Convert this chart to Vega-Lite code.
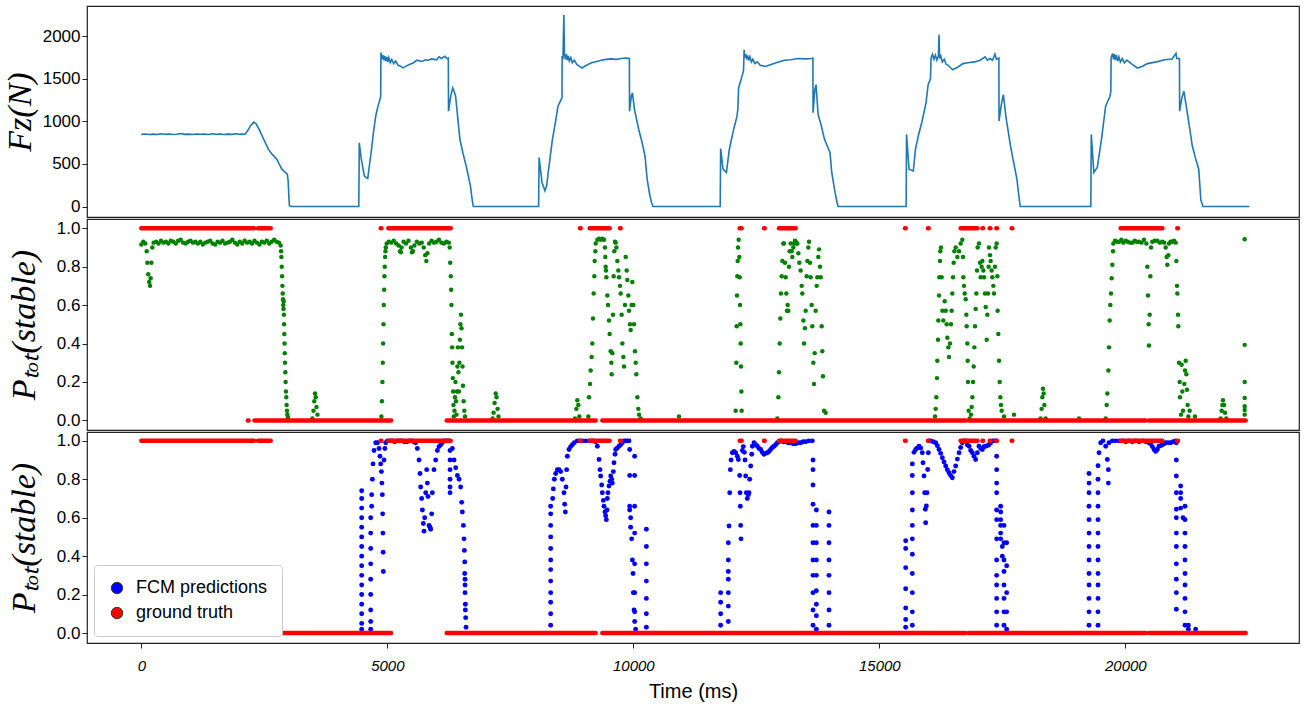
{
  "$schema": "https://vega.github.io/schema/vega-lite/v6.json",
  "background": "white",
  "padding": {"left": 2, "top": 5, "right": 4, "bottom": 2},
  "spacing": 0,
  "resolve": {"scale": {"color": "independent"}, "legend": {"color": "independent"}},
  "config": {
    "view": {"stroke": "#222222", "strokeWidth": 1.2},
    "axis": {
      "labelFont": "Liberation Sans",
      "labelFontSize": 17,
      "labelColor": "black",
      "labelPadding": 2,
      "tickColor": "#222222",
      "tickSize": 5,
      "domain": false,
      "grid": false,
      "titleColor": "black"
    }
  },
  "datasets": {
    "fz": [
      {"t":0,"f":848},{"t":80,"f":853},{"t":160,"f":846},{"t":240,"f":851},{"t":320,"f":847},{"t":400,"f":856},{"t":480,"f":849},{"t":560,"f":852},{"t":640,"f":846},{"t":720,"f":850},{"t":800,"f":858},{"t":880,"f":848},{"t":960,"f":851},{"t":1040,"f":846},{"t":1120,"f":853},{"t":1200,"f":849},{"t":1280,"f":851},{"t":1360,"f":846},{"t":1440,"f":855},{"t":1520,"f":849},{"t":1600,"f":853},{"t":1680,"f":847},{"t":1760,"f":851},{"t":1840,"f":848},{"t":1920,"f":856},{"t":2000,"f":849},{"t":2060,"f":852},{"t":2110,"f":850},{"t":2160,"f":890},{"t":2220,"f":950},{"t":2283,"f":992},{"t":2330,"f":975},{"t":2400,"f":900},{"t":2480,"f":800},{"t":2583,"f":672},{"t":2650,"f":620},{"t":2700,"f":590},{"t":2754,"f":555},{"t":2800,"f":500},{"t":2856,"f":439},{"t":2920,"f":405},{"t":2967,"f":380},{"t":2985,"f":300},{"t":3000,"f":100},{"t":3010,"f":10},{"t":3053,"f":0},
      {"t":3500,"f":0},{"t":4000,"f":0},{"t":4420,"f":0},
      {"t":4430,"f":750},{"t":4470,"f":560},{"t":4533,"f":360},{"t":4570,"f":340},{"t":4602,"f":330},{"t":4640,"f":500},{"t":4679,"f":672},{"t":4720,"f":880},{"t":4764,"f":1062},{"t":4810,"f":1180},{"t":4850,"f":1257},{"t":4865,"f":1290},{"t":4870,"f":1810},{"t":4890,"f":1730},{"t":4910,"f":1780},{"t":4930,"f":1720},{"t":4950,"f":1770},{"t":4970,"f":1710},{"t":4990,"f":1760},{"t":5010,"f":1700},{"t":5030,"f":1750},{"t":5060,"f":1690},{"t":5090,"f":1730},{"t":5130,"f":1680},{"t":5170,"f":1710},{"t":5220,"f":1660},{"t":5270,"f":1650},{"t":5319,"f":1630},{"t":5380,"f":1650},{"t":5450,"f":1670},{"t":5534,"f":1690},{"t":5600,"f":1720},{"t":5700,"f":1705},{"t":5780,"f":1725},{"t":5833,"f":1720},{"t":5900,"f":1735},{"t":6000,"f":1725},{"t":6050,"f":1760},{"t":6100,"f":1740},{"t":6170,"f":1765},{"t":6217,"f":1740},{"t":6240,"f":1745},{"t":6244,"f":1121},{"t":6290,"f":1300},{"t":6329,"f":1394},{"t":6360,"f":1350},{"t":6388,"f":1296},{"t":6430,"f":1050},{"t":6475,"f":790},{"t":6540,"f":620},{"t":6603,"f":477},{"t":6650,"f":350},{"t":6689,"f":243},{"t":6720,"f":100},{"t":6748,"f":0},
      {"t":7400,"f":0},{"t":8075,"f":0},
      {"t":8085,"f":575},{"t":8144,"f":283},{"t":8203,"f":185},{"t":8240,"f":250},{"t":8270,"f":400},{"t":8356,"f":790},{"t":8420,"f":1000},{"t":8468,"f":1179},{"t":8529,"f":1250},{"t":8550,"f":1280},{"t":8553,"f":1770},{"t":8570,"f":1730},{"t":8588,"f":2251},{"t":8600,"f":1790},{"t":8620,"f":1730},{"t":8640,"f":1790},{"t":8660,"f":1720},{"t":8680,"f":1770},{"t":8700,"f":1710},{"t":8730,"f":1750},{"t":8760,"f":1690},{"t":8800,"f":1720},{"t":8850,"f":1670},{"t":8900,"f":1650},{"t":8955,"f":1628},{"t":9050,"f":1660},{"t":9150,"f":1690},{"t":9254,"f":1705},{"t":9350,"f":1720},{"t":9450,"f":1730},{"t":9550,"f":1735},{"t":9650,"f":1730},{"t":9750,"f":1740},{"t":9850,"f":1745},{"t":9920,"f":1740},{"t":9923,"f":1121},{"t":9960,"f":1300},{"t":9982,"f":1336},{"t":10024,"f":1140},{"t":10110,"f":906},{"t":10180,"f":750},{"t":10238,"f":594},{"t":10281,"f":322},{"t":10330,"f":150},{"t":10368,"f":50},{"t":10400,"f":0},
      {"t":11100,"f":0},{"t":11766,"f":0},
      {"t":11775,"f":681},{"t":11823,"f":439},{"t":11892,"f":400},{"t":11951,"f":672},{"t":12039,"f":906},{"t":12108,"f":1062},{"t":12125,"f":1150},{"t":12140,"f":1394},{"t":12209,"f":1530},{"t":12240,"f":1600},{"t":12252,"f":1842},{"t":12265,"f":1750},{"t":12285,"f":1790},{"t":12305,"f":1730},{"t":12325,"f":1775},{"t":12345,"f":1715},{"t":12370,"f":1760},{"t":12400,"f":1700},{"t":12430,"f":1730},{"t":12470,"f":1680},{"t":12520,"f":1700},{"t":12580,"f":1660},{"t":12683,"f":1647},{"t":12800,"f":1670},{"t":12950,"f":1700},{"t":13069,"f":1720},{"t":13200,"f":1725},{"t":13350,"f":1740},{"t":13500,"f":1735},{"t":13628,"f":1740},{"t":13650,"f":1745},{"t":13653,"f":1102},{"t":13690,"f":1380},{"t":13714,"f":1433},{"t":13756,"f":1082},{"t":13820,"f":950},{"t":13886,"f":790},{"t":13998,"f":634},{"t":14033,"f":400},{"t":14100,"f":166},{"t":14140,"f":50},{"t":14161,"f":0},
      {"t":14800,"f":0},{"t":15545,"f":0},
      {"t":15553,"f":848},{"t":15604,"f":439},{"t":15691,"f":419},{"t":15734,"f":672},{"t":15800,"f":850},{"t":15862,"f":985},{"t":15949,"f":1219},{"t":15992,"f":1433},{"t":16040,"f":1500},{"t":16051,"f":1745},{"t":16080,"f":1790},{"t":16110,"f":1730},{"t":16140,"f":1780},{"t":16170,"f":1720},{"t":16200,"f":1770},{"t":16214,"f":2018},{"t":16225,"f":1740},{"t":16250,"f":1770},{"t":16280,"f":1700},{"t":16320,"f":1730},{"t":16360,"f":1670},{"t":16400,"f":1660},{"t":16490,"f":1608},{"t":16600,"f":1640},{"t":16700,"f":1680},{"t":16800,"f":1690},{"t":16937,"f":1700},{"t":17050,"f":1720},{"t":17150,"f":1760},{"t":17200,"f":1720},{"t":17250,"f":1740},{"t":17300,"f":1720},{"t":17350,"f":1790},{"t":17380,"f":1730},{"t":17409,"f":1740},{"t":17430,"f":1745},{"t":17433,"f":1004},{"t":17480,"f":1200},{"t":17520,"f":1316},{"t":17581,"f":1023},{"t":17667,"f":711},{"t":17730,"f":520},{"t":17797,"f":322},{"t":17830,"f":150},{"t":17864,"f":0},
      {"t":18600,"f":0},{"t":19299,"f":0},
      {"t":19308,"f":848},{"t":19360,"f":400},{"t":19430,"f":458},{"t":19515,"f":790},{"t":19600,"f":1179},{"t":19687,"f":1296},{"t":19705,"f":1350},{"t":19711,"f":1745},{"t":19740,"f":1800},{"t":19760,"f":1730},{"t":19780,"f":1790},{"t":19800,"f":1720},{"t":19820,"f":1780},{"t":19845,"f":1710},{"t":19870,"f":1760},{"t":19900,"f":1700},{"t":19940,"f":1740},{"t":19980,"f":1690},{"t":20031,"f":1720},{"t":20140,"f":1670},{"t":20246,"f":1628},{"t":20350,"f":1650},{"t":20450,"f":1680},{"t":20632,"f":1700},{"t":20800,"f":1725},{"t":20950,"f":1735},{"t":21030,"f":1800},{"t":21045,"f":1740},{"t":21100,"f":1740},{"t":21104,"f":1121},{"t":21150,"f":1280},{"t":21191,"f":1355},{"t":21250,"f":1140},{"t":21300,"f":950},{"t":21362,"f":711},{"t":21430,"f":560},{"t":21492,"f":439},{"t":21535,"f":78},{"t":21577,"f":0},
      {"t":22000,"f":0},{"t":22522,"f":0}
    ],
    "green": [
      {"t":0,"p":0.915},{"t":40,"p":0.93},{"t":80,"p":0.92},{"t":110,"p":0.88},{"t":123,"p":0.82},{"t":140,"p":0.76},{"t":160,"p":0.72},{"t":177,"p":0.70},{"t":190,"p":0.74},{"t":205,"p":0.82},{"t":224,"p":0.90},{"t":250,"p":0.925},{"t":300,"p":0.93},{"t":350,"p":0.92},{"t":400,"p":0.935},{"t":450,"p":0.925},{"t":500,"p":0.93},{"t":550,"p":0.92},{"t":600,"p":0.935},{"t":650,"p":0.93},{"t":700,"p":0.92},{"t":750,"p":0.935},{"t":800,"p":0.94},{"t":850,"p":0.925},{"t":900,"p":0.92},{"t":950,"p":0.93},{"t":1000,"p":0.935},{"t":1050,"p":0.925},{"t":1100,"p":0.93},{"t":1150,"p":0.92},{"t":1200,"p":0.93},{"t":1250,"p":0.915},{"t":1300,"p":0.925},{"t":1350,"p":0.93},{"t":1400,"p":0.935},{"t":1450,"p":0.92},{"t":1500,"p":0.915},{"t":1550,"p":0.93},{"t":1600,"p":0.925},{"t":1650,"p":0.935},{"t":1700,"p":0.92},{"t":1750,"p":0.925},{"t":1800,"p":0.93},{"t":1850,"p":0.94},{"t":1900,"p":0.925},{"t":1950,"p":0.915},{"t":2000,"p":0.93},{"t":2050,"p":0.92},{"t":2100,"p":0.935},{"t":2150,"p":0.925},{"t":2200,"p":0.93},{"t":2250,"p":0.92},{"t":2300,"p":0.935},{"t":2350,"p":0.925},{"t":2400,"p":0.915},{"t":2450,"p":0.93},{"t":2500,"p":0.925},{"t":2550,"p":0.935},{"t":2600,"p":0.92},{"t":2650,"p":0.93},{"t":2700,"p":0.94},{"t":2750,"p":0.93},{"t":2800,"p":0.925},{"t":2833,"p":0.91},
      {"t":2840,"p":0.88},{"t":2847,"p":0.85},{"t":2854,"p":0.80},{"t":2861,"p":0.75},{"t":2868,"p":0.70},{"t":2874,"p":0.66},{"t":2880,"p":0.63},{"t":2885,"p":0.60},{"t":2890,"p":0.58},{"t":2894,"p":0.62},{"t":2898,"p":0.55},{"t":2902,"p":0.50},{"t":2906,"p":0.45},{"t":2911,"p":0.40},{"t":2916,"p":0.35},{"t":2921,"p":0.30},{"t":2927,"p":0.25},{"t":2933,"p":0.20},{"t":2940,"p":0.15},{"t":2946,"p":0.12},{"t":2953,"p":0.08},{"t":2960,"p":0.05},{"t":2968,"p":0.03},{"t":2980,"p":0.015},
      {"t":3476,"p":0.01},{"t":3500,"p":0.05},{"t":3515,"p":0.10},{"t":3530,"p":0.14},{"t":3545,"p":0.12},{"t":3560,"p":0.07},{"t":3580,"p":0.03},
      {"t":4879,"p":0.02},{"t":4890,"p":0.10},{"t":4901,"p":0.20},{"t":4908,"p":0.30},{"t":4915,"p":0.40},{"t":4922,"p":0.50},{"t":4928,"p":0.60},{"t":4935,"p":0.68},{"t":4942,"p":0.75},{"t":4948,"p":0.80},{"t":4955,"p":0.85},{"t":4962,"p":0.88},{"t":4969,"p":0.90},{"t":4987,"p":0.92},
      {"t":5030,"p":0.93},{"t":5080,"p":0.925},{"t":5130,"p":0.935},{"t":5180,"p":0.92},{"t":5230,"p":0.91},{"t":5260,"p":0.88},{"t":5275,"p":0.875},{"t":5290,"p":0.90},{"t":5330,"p":0.93},{"t":5380,"p":0.92},{"t":5430,"p":0.935},{"t":5480,"p":0.90},{"t":5500,"p":0.875},{"t":5520,"p":0.88},{"t":5550,"p":0.91},{"t":5600,"p":0.93},{"t":5650,"p":0.92},{"t":5700,"p":0.925},{"t":5740,"p":0.90},{"t":5770,"p":0.86},{"t":5793,"p":0.83},{"t":5815,"p":0.87},{"t":5850,"p":0.92},{"t":5900,"p":0.935},{"t":5950,"p":0.925},{"t":6000,"p":0.93},{"t":6050,"p":0.94},{"t":6100,"p":0.925},{"t":6150,"p":0.92},{"t":6200,"p":0.93},{"t":6250,"p":0.925},{"t":6268,"p":0.90},
      {"t":6278,"p":0.82},{"t":6290,"p":0.75},{"t":6297,"p":0.68},{"t":6304,"p":0.60},{"t":6311,"p":0.45},{"t":6318,"p":0.38},{"t":6324,"p":0.30},{"t":6331,"p":0.22},{"t":6338,"p":0.15},{"t":6345,"p":0.08},{"t":6351,"p":0.02},
      {"t":6365,"p":0.05},{"t":6375,"p":0.12},{"t":6385,"p":0.20},{"t":6395,"p":0.10},{"t":6405,"p":0.03},{"t":6415,"p":0.15},{"t":6425,"p":0.28},{"t":6435,"p":0.38},{"t":6445,"p":0.25},{"t":6455,"p":0.15},{"t":6465,"p":0.30},{"t":6475,"p":0.42},{"t":6485,"p":0.50},{"t":6498,"p":0.55},{"t":6508,"p":0.48},{"t":6518,"p":0.38},{"t":6528,"p":0.28},{"t":6538,"p":0.18},{"t":6550,"p":0.10},{"t":6565,"p":0.05},{"t":6580,"p":0.02},
      {"t":7140,"p":0.01},{"t":7160,"p":0.04},{"t":7180,"p":0.09},{"t":7203,"p":0.14},{"t":7220,"p":0.12},{"t":7240,"p":0.06},{"t":7260,"p":0.02},
      {"t":8815,"p":0.01},{"t":8842,"p":0.06},{"t":8862,"p":0.105},{"t":8882,"p":0.08},{"t":8903,"p":0.02},
      {"t":9086,"p":0.02},{"t":9099,"p":0.12},{"t":9120,"p":0.19},{"t":9133,"p":0.26},{"t":9153,"p":0.33},{"t":9167,"p":0.40},{"t":9181,"p":0.53},{"t":9194,"p":0.66},{"t":9208,"p":0.75},{"t":9214,"p":0.83},{"t":9228,"p":0.88},{"t":9235,"p":0.92},{"t":9269,"p":0.94},{"t":9303,"p":0.945},{"t":9336,"p":0.94},{"t":9370,"p":0.945},{"t":9404,"p":0.94},{"t":9424,"p":0.90},{"t":9431,"p":0.85},{"t":9438,"p":0.80},{"t":9445,"p":0.78},{"t":9452,"p":0.745},{"t":9472,"p":0.65},{"t":9485,"p":0.60},{"t":9506,"p":0.52},{"t":9519,"p":0.45},{"t":9540,"p":0.36},{"t":9553,"p":0.30},{"t":9560,"p":0.24},{"t":9574,"p":0.35},{"t":9587,"p":0.55},{"t":9601,"p":0.75},{"t":9614,"p":0.88},{"t":9628,"p":0.93},{"t":9641,"p":0.925},{"t":9655,"p":0.90},{"t":9675,"p":0.83},{"t":9695,"p":0.78},{"t":9709,"p":0.745},{"t":9729,"p":0.70},{"t":9743,"p":0.66},{"t":9763,"p":0.55},{"t":9777,"p":0.40},{"t":9797,"p":0.33},{"t":9811,"p":0.28},{"t":9831,"p":0.60},{"t":9845,"p":0.85},{"t":9865,"p":0.78},{"t":9878,"p":0.73},{"t":9899,"p":0.65},{"t":9912,"p":0.57},{"t":9933,"p":0.50},{"t":9946,"p":0.47},{"t":9966,"p":0.60},{"t":9980,"p":0.72},{"t":10000,"p":0.60},{"t":10014,"p":0.50},{"t":10034,"p":0.36},{"t":10048,"p":0.30},{"t":10061,"p":0.24},{"t":10082,"p":0.12},{"t":10102,"p":0.06},{"t":10116,"p":0.03},{"t":10149,"p":0.01},
      {"t":10929,"p":0.02},
      {"t":12080,"p":0.05},{"t":12094,"p":0.30},{"t":12101,"p":0.49},{"t":12107,"p":0.65},{"t":12114,"p":0.75},{"t":12121,"p":0.83},{"t":12128,"p":0.90},{"t":12141,"p":0.94},{"t":12155,"p":0.85},{"t":12162,"p":0.745},{"t":12169,"p":0.60},{"t":12175,"p":0.50},{"t":12182,"p":0.40},{"t":12189,"p":0.28},{"t":12196,"p":0.15},{"t":12202,"p":0.05},
      {"t":12927,"p":0.01},{"t":12948,"p":0.12},{"t":12961,"p":0.25},{"t":12975,"p":0.40},{"t":12988,"p":0.53},{"t":13002,"p":0.66},{"t":13015,"p":0.75},{"t":13029,"p":0.83},{"t":13049,"p":0.92},{"t":13063,"p":0.92},{"t":13083,"p":0.82},{"t":13097,"p":0.745},{"t":13110,"p":0.66},{"t":13124,"p":0.57},{"t":13137,"p":0.60},{"t":13151,"p":0.57},{"t":13164,"p":0.80},{"t":13178,"p":0.88},{"t":13198,"p":0.92},{"t":13218,"p":0.88},{"t":13232,"p":0.85},{"t":13252,"p":0.90},{"t":13266,"p":0.92},{"t":13286,"p":0.935},{"t":13300,"p":0.93},{"t":13320,"p":0.92},{"t":13334,"p":0.92},{"t":13354,"p":0.87},{"t":13374,"p":0.82},{"t":13401,"p":0.78},{"t":13422,"p":0.70},{"t":13435,"p":0.66},{"t":13456,"p":0.52},{"t":13469,"p":0.40},{"t":13489,"p":0.48},{"t":13503,"p":0.57},{"t":13523,"p":0.75},{"t":13537,"p":0.83},{"t":13557,"p":0.90},{"t":13571,"p":0.93},{"t":13591,"p":0.82},{"t":13604,"p":0.745},{"t":13625,"p":0.60},{"t":13638,"p":0.49},{"t":13659,"p":0.30},{"t":13672,"p":0.19},{"t":13686,"p":0.35},{"t":13706,"p":0.57},{"t":13727,"p":0.70},{"t":13740,"p":0.745},{"t":13760,"p":0.85},{"t":13774,"p":0.89},{"t":13794,"p":0.80},{"t":13808,"p":0.745},{"t":13828,"p":0.49},{"t":13842,"p":0.36},{"t":13855,"p":0.23},{"t":13876,"p":0.05},{"t":13909,"p":0.04},
      {"t":16132,"p":0.02},{"t":16145,"p":0.06},{"t":16159,"p":0.12},{"t":16172,"p":0.22},{"t":16179,"p":0.31},{"t":16193,"p":0.42},{"t":16199,"p":0.52},{"t":16213,"p":0.65},{"t":16220,"p":0.745},{"t":16233,"p":0.83},{"t":16240,"p":0.88},{"t":16254,"p":0.90},{"t":16267,"p":0.745},{"t":16281,"p":0.57},{"t":16301,"p":0.52},{"t":16328,"p":0.62},{"t":16349,"p":0.57},{"t":16369,"p":0.50},{"t":16382,"p":0.43},{"t":16403,"p":0.38},{"t":16416,"p":0.33},{"t":16437,"p":0.40},{"t":16457,"p":0.50},{"t":16470,"p":0.57},{"t":16484,"p":0.66},{"t":16498,"p":0.745},{"t":16511,"p":0.82},{"t":16525,"p":0.88},{"t":16552,"p":0.90},{"t":16586,"p":0.85},{"t":16620,"p":0.88},{"t":16653,"p":0.92},{"t":16687,"p":0.94},{"t":16701,"p":0.85},{"t":16708,"p":0.745},{"t":16721,"p":0.70},{"t":16735,"p":0.66},{"t":16755,"p":0.63},{"t":16769,"p":0.55},{"t":16775,"p":0.49},{"t":16789,"p":0.40},{"t":16796,"p":0.31},{"t":16802,"p":0.20},{"t":16816,"p":0.05},{"t":16836,"p":0.01},{"t":16863,"p":0.03},{"t":16877,"p":0.07},{"t":16891,"p":0.12},{"t":16904,"p":0.20},{"t":16918,"p":0.28},{"t":16931,"p":0.38},{"t":16945,"p":0.49},{"t":16958,"p":0.58},{"t":16972,"p":0.66},{"t":16985,"p":0.78},{"t":16999,"p":0.90},{"t":17026,"p":0.92},{"t":17046,"p":0.82},{"t":17060,"p":0.745},{"t":17080,"p":0.80},{"t":17094,"p":0.83},{"t":17114,"p":0.78},{"t":17128,"p":0.745},{"t":17148,"p":0.66},{"t":17162,"p":0.59},{"t":17182,"p":0.42},{"t":17195,"p":0.55},{"t":17209,"p":0.66},{"t":17222,"p":0.80},{"t":17229,"p":0.90},{"t":17250,"p":0.86},{"t":17263,"p":0.83},{"t":17283,"p":0.78},{"t":17297,"p":0.745},{"t":17317,"p":0.70},{"t":17331,"p":0.66},{"t":17351,"p":0.80},{"t":17365,"p":0.90},{"t":17385,"p":0.92},{"t":17399,"p":0.75},{"t":17405,"p":0.57},{"t":17419,"p":0.45},{"t":17433,"p":0.31},{"t":17446,"p":0.20},{"t":17460,"p":0.12},{"t":17473,"p":0.08},{"t":17487,"p":0.05},{"t":17534,"p":0.02},{"t":17737,"p":0.03},
      {"t":18279,"p":0.01},{"t":18299,"p":0.06},{"t":18313,"p":0.12},{"t":18327,"p":0.165},{"t":18340,"p":0.14},{"t":18354,"p":0.08},{"t":18381,"p":0.01},
      {"t":19059,"p":0.01},
      {"t":19601,"p":0.01},{"t":19621,"p":0.08},{"t":19634,"p":0.14},{"t":19655,"p":0.26},{"t":19668,"p":0.38},{"t":19682,"p":0.52},{"t":19695,"p":0.60},{"t":19709,"p":0.66},{"t":19722,"p":0.74},{"t":19736,"p":0.81},{"t":19750,"p":0.88},{"t":19756,"p":0.92},{"t":19790,"p":0.935},{"t":19830,"p":0.93},{"t":19872,"p":0.93},{"t":19920,"p":0.94},{"t":19960,"p":0.925},{"t":20007,"p":0.935},{"t":20050,"p":0.93},{"t":20100,"p":0.925},{"t":20143,"p":0.925},{"t":20190,"p":0.935},{"t":20230,"p":0.93},{"t":20278,"p":0.93},{"t":20330,"p":0.925},{"t":20380,"p":0.94},{"t":20427,"p":0.92},{"t":20447,"p":0.80},{"t":20461,"p":0.65},{"t":20474,"p":0.50},{"t":20481,"p":0.39},{"t":20495,"p":0.55},{"t":20509,"p":0.75},{"t":20522,"p":0.90},{"t":20549,"p":0.93},{"t":20600,"p":0.935},{"t":20651,"p":0.935},{"t":20700,"p":0.925},{"t":20752,"p":0.93},{"t":20790,"p":0.925},{"t":20820,"p":0.90},{"t":20840,"p":0.85},{"t":20854,"p":0.81},{"t":20874,"p":0.86},{"t":20888,"p":0.92},{"t":20920,"p":0.93},{"t":20956,"p":0.93},{"t":20990,"p":0.935},{"t":21023,"p":0.925},
      {"t":21037,"p":0.83},{"t":21050,"p":0.70},{"t":21057,"p":0.66},{"t":21071,"p":0.55},{"t":21077,"p":0.49},{"t":21091,"p":0.30},{"t":21105,"p":0.20},{"t":21111,"p":0.12},{"t":21132,"p":0.03},{"t":21145,"p":0.29},{"t":21159,"p":0.15},{"t":21172,"p":0.05},{"t":21200,"p":0.19},{"t":21213,"p":0.26},{"t":21227,"p":0.31},{"t":21240,"p":0.24},{"t":21254,"p":0.16},{"t":21267,"p":0.08},{"t":21281,"p":0.02},{"t":21308,"p":0.05},{"t":21416,"p":0.02},
      {"t":21938,"p":0.01},{"t":21958,"p":0.05},{"t":21972,"p":0.08},{"t":21985,"p":0.105},{"t":22006,"p":0.08},{"t":22026,"p":0.04},{"t":22053,"p":0.01},
      {"t":22426,"p":0.943},{"t":22426,"p":0.393},{"t":22426,"p":0.20},{"t":22426,"p":0.117},{"t":22426,"p":0.074},{"t":22426,"p":0.054},{"t":22426,"p":0.03}
    ],
    "blue": [
      {"t":4479,"p":0.74},{"t":4479,"p":0.70},{"t":4479,"p":0.65},{"t":4479,"p":0.60},{"t":4479,"p":0.55},{"t":4479,"p":0.50},{"t":4479,"p":0.45},{"t":4479,"p":0.40},{"t":4479,"p":0.35},{"t":4479,"p":0.30},{"t":4479,"p":0.25},{"t":4479,"p":0.20},{"t":4479,"p":0.15},{"t":4479,"p":0.10},{"t":4479,"p":0.05},{"t":4479,"p":0.02},
      {"t":4662,"p":0.02},{"t":4662,"p":0.06},{"t":4662,"p":0.12},{"t":4662,"p":0.20},{"t":4662,"p":0.28},{"t":4662,"p":0.36},{"t":4662,"p":0.44},{"t":4662,"p":0.52},{"t":4662,"p":0.60},
      {"t":4682,"p":0.66},{"t":4682,"p":0.72},{"t":4696,"p":0.80},{"t":4709,"p":0.88},{"t":4730,"p":0.95},{"t":4764,"p":0.99},{"t":4800,"p":0.99},{"t":4831,"p":0.96},{"t":4850,"p":0.92},{"t":4865,"p":0.88},{"t":4880,"p":0.84},{"t":4890,"p":0.78},{"t":4899,"p":0.72},{"t":4905,"p":0.62},{"t":4910,"p":0.52},{"t":4915,"p":0.42},{"t":4919,"p":0.32},{"t":4933,"p":0.90},{"t":4950,"p":0.96},{"t":4967,"p":0.99},{"t":5001,"p":1.0},{"t":5050,"p":1.0},{"t":5100,"p":1.0},{"t":5150,"p":0.995},{"t":5200,"p":1.0},{"t":5250,"p":1.0},{"t":5300,"p":1.0},{"t":5350,"p":0.995},{"t":5400,"p":0.995},{"t":5450,"p":1.0},{"t":5500,"p":1.0},{"t":5540,"p":0.995},{"t":5577,"p":0.99},{"t":5610,"p":0.96},{"t":5644,"p":0.90},{"t":5664,"p":0.83},{"t":5678,"p":0.76},{"t":5698,"p":0.70},{"t":5712,"p":0.64},{"t":5732,"p":0.57},{"t":5746,"p":0.53},{"t":5759,"p":0.60},{"t":5780,"p":0.73},{"t":5800,"p":0.85},{"t":5814,"p":0.78},{"t":5827,"p":0.71},{"t":5848,"p":0.56},{"t":5868,"p":0.55},{"t":5881,"p":0.54},{"t":5902,"p":0.62},{"t":5915,"p":0.73},{"t":5949,"p":0.85},{"t":5983,"p":0.90},{"t":6017,"p":0.95},{"t":6051,"p":0.97},{"t":6085,"p":0.98},{"t":6118,"p":0.99},{"t":6150,"p":1.0},{"t":6186,"p":1.0},{"t":6220,"p":1.0},{"t":6254,"p":1.0},
      {"t":6275,"p":0.95},{"t":6275,"p":0.90},{"t":6275,"p":0.85},{"t":6275,"p":0.80},{"t":6275,"p":0.76},{"t":6275,"p":0.73},
      {"t":6322,"p":0.96},{"t":6356,"p":0.90},{"t":6390,"p":0.86},{"t":6424,"p":0.82},{"t":6458,"p":0.80},{"t":6491,"p":0.76},{"t":6512,"p":0.68},{"t":6525,"p":0.63},{"t":6546,"p":0.56},{"t":6559,"p":0.49},{"t":6566,"p":0.43},{"t":6573,"p":0.37},{"t":6573,"p":0.31},{"t":6580,"p":0.28},{"t":6580,"p":0.25},{"t":6580,"p":0.21},{"t":6586,"p":0.15},{"t":6586,"p":0.12},{"t":6593,"p":0.08},{"t":6600,"p":0.03},
      {"t":8320,"p":0.04},{"t":8320,"p":0.10},{"t":8320,"p":0.16},{"t":8320,"p":0.21},{"t":8320,"p":0.27},{"t":8320,"p":0.33},{"t":8320,"p":0.38},{"t":8320,"p":0.44},{"t":8320,"p":0.50},{"t":8320,"p":0.56},{"t":8320,"p":0.62},{"t":8320,"p":0.66},
      {"t":8361,"p":0.70},{"t":8374,"p":0.75},{"t":8395,"p":0.80},{"t":8422,"p":0.83},{"t":8456,"p":0.85},{"t":8490,"p":0.85},{"t":8523,"p":0.84},{"t":8557,"p":0.80},{"t":8591,"p":0.73},{"t":8605,"p":0.67},{"t":8618,"p":0.63},{"t":8632,"p":0.76},{"t":8645,"p":0.85},{"t":8659,"p":0.92},{"t":8693,"p":0.955},{"t":8727,"p":0.97},{"t":8761,"p":0.98},{"t":8800,"p":0.99},{"t":8862,"p":1.0},{"t":8913,"p":1.0},{"t":8964,"p":1.0},{"t":9030,"p":1.0},{"t":9099,"p":1.0},{"t":9170,"p":1.0},{"t":9235,"p":0.995},{"t":9269,"p":0.972},{"t":9303,"p":0.903},{"t":9323,"p":0.85},{"t":9336,"p":0.817},{"t":9357,"p":0.77},{"t":9370,"p":0.73},{"t":9391,"p":0.69},{"t":9404,"p":0.66},{"t":9424,"p":0.63},{"t":9438,"p":0.61},{"t":9452,"p":0.59},{"t":9465,"p":0.64},{"t":9472,"p":0.70},{"t":9485,"p":0.73},{"t":9506,"p":0.765},{"t":9526,"p":0.79},{"t":9540,"p":0.817},{"t":9560,"p":0.80},{"t":9574,"p":0.78},{"t":9594,"p":0.84},{"t":9607,"p":0.886},{"t":9628,"p":0.93},{"t":9641,"p":0.955},{"t":9675,"p":0.963},{"t":9709,"p":0.972},{"t":9743,"p":0.98},{"t":9777,"p":0.99},{"t":9811,"p":1.0},{"t":9845,"p":1.0},{"t":9880,"p":1.0},{"t":9912,"p":1.0},
      {"t":9926,"p":0.955},{"t":9926,"p":0.82},{"t":9926,"p":0.66},{"t":9926,"p":0.64},{"t":9946,"p":0.60},{"t":9946,"p":0.55},{"t":9966,"p":0.49},{"t":9980,"p":0.38},{"t":9994,"p":0.31},{"t":10000,"p":0.21},{"t":10014,"p":0.12},{"t":10027,"p":0.06},{"t":10048,"p":0.02},
      {"t":10027,"p":0.92},{"t":10027,"p":0.82},{"t":10027,"p":0.66},{"t":10027,"p":0.52},{"t":10027,"p":0.36},{"t":10027,"p":0.21},{"t":10027,"p":0.11},
      {"t":10265,"p":0.54},{"t":10265,"p":0.45},{"t":10265,"p":0.36},{"t":10265,"p":0.27},{"t":10265,"p":0.18},{"t":10265,"p":0.10},{"t":10265,"p":0.03},
      {"t":11775,"p":0.21},{"t":11775,"p":0.16},{"t":11775,"p":0.10},{"t":11775,"p":0.04},
      {"t":11931,"p":0.47},{"t":11931,"p":0.38},{"t":11931,"p":0.32},{"t":11931,"p":0.28},{"t":11931,"p":0.21},{"t":11931,"p":0.14},{"t":11931,"p":0.06},
      {"t":11945,"p":0.557},{"t":11959,"p":0.73},{"t":11972,"p":0.85},{"t":11986,"p":0.90},{"t":12013,"p":0.938},{"t":12047,"p":0.945},{"t":12080,"p":0.938},{"t":12114,"p":0.92},{"t":12135,"p":0.903},
      {"t":12162,"p":0.82},{"t":12169,"p":0.73},{"t":12175,"p":0.66},{"t":12182,"p":0.56},{"t":12189,"p":0.49},{"t":12216,"p":0.95},{"t":12236,"p":0.97},{"t":12256,"p":0.94},{"t":12270,"p":0.90},{"t":12283,"p":0.817},{"t":12297,"p":0.73},{"t":12317,"p":0.70},{"t":12338,"p":0.72},{"t":12351,"p":0.73},{"t":12365,"p":0.80},{"t":12385,"p":0.869},{"t":12406,"p":0.93},{"t":12419,"p":0.972},{"t":12453,"p":0.99},{"t":12487,"p":0.98},{"t":12521,"p":0.972},{"t":12555,"p":0.96},{"t":12588,"p":0.955},{"t":12622,"p":0.94},{"t":12656,"p":0.93},{"t":12690,"p":0.935},{"t":12724,"p":0.938},{"t":12758,"p":0.945},{"t":12791,"p":0.955},{"t":12825,"p":0.965},{"t":12859,"p":0.972},{"t":12893,"p":0.98},{"t":12927,"p":0.99},{"t":12960,"p":0.995},{"t":12995,"p":1.0},{"t":13050,"p":0.995},{"t":13097,"p":0.995},{"t":13150,"p":0.99},{"t":13198,"p":0.99},{"t":13250,"p":0.985},{"t":13300,"p":0.985},{"t":13350,"p":0.99},{"t":13401,"p":0.99},{"t":13450,"p":0.995},{"t":13503,"p":0.995},{"t":13570,"p":1.0},{"t":13639,"p":1.0},
      {"t":13652,"p":0.90},{"t":13652,"p":0.85},{"t":13652,"p":0.77},{"t":13652,"p":0.67},{"t":13652,"p":0.56},{"t":13652,"p":0.47},{"t":13652,"p":0.38},{"t":13652,"p":0.30},{"t":13652,"p":0.21},{"t":13652,"p":0.12},{"t":13652,"p":0.04},
      {"t":13720,"p":0.64},{"t":13720,"p":0.56},{"t":13720,"p":0.47},{"t":13720,"p":0.38},{"t":13720,"p":0.30},{"t":13720,"p":0.22},{"t":13720,"p":0.15},{"t":13720,"p":0.09},{"t":13720,"p":0.02},
      {"t":13977,"p":0.63},{"t":13977,"p":0.56},{"t":13977,"p":0.47},{"t":13977,"p":0.38},{"t":13977,"p":0.30},{"t":13977,"p":0.21},{"t":13977,"p":0.12},{"t":13977,"p":0.04},
      {"t":15536,"p":0.48},{"t":15536,"p":0.44},{"t":15536,"p":0.34},{"t":15536,"p":0.23},{"t":15536,"p":0.13},{"t":15536,"p":0.07},{"t":15536,"p":0.03},
      {"t":15671,"p":0.04},{"t":15671,"p":0.11},{"t":15671,"p":0.21},{"t":15671,"p":0.31},{"t":15671,"p":0.41},{"t":15671,"p":0.49},{"t":15671,"p":0.56},{"t":15671,"p":0.64},{"t":15671,"p":0.73},{"t":15671,"p":0.82},{"t":15671,"p":0.88},
      {"t":15705,"p":0.94},{"t":15739,"p":0.955},{"t":15773,"p":0.963},{"t":15807,"p":0.972},{"t":15840,"p":0.963},{"t":15874,"p":0.938},{"t":15888,"p":0.886},{"t":15908,"p":0.817},{"t":15922,"p":0.73},{"t":15935,"p":0.644},{"t":15942,"p":0.574},{"t":15956,"p":0.661},{"t":15969,"p":0.73},{"t":15983,"p":0.851},{"t":15996,"p":0.938},{"t":16010,"p":1.0},{"t":16044,"p":1.0},{"t":16095,"p":0.995},{"t":16145,"p":0.99},{"t":16180,"p":0.975},{"t":16213,"p":0.955},{"t":16247,"p":0.935},{"t":16281,"p":0.912},{"t":16315,"p":0.89},{"t":16349,"p":0.869},{"t":16382,"p":0.85},{"t":16416,"p":0.834},{"t":16450,"p":0.82},{"t":16484,"p":0.808},{"t":16518,"p":0.84},{"t":16552,"p":0.869},{"t":16586,"p":0.905},{"t":16620,"p":0.938},{"t":16653,"p":0.965},{"t":16687,"p":0.99},{"t":16720,"p":1.0},{"t":16755,"p":1.0},{"t":16789,"p":0.98},{"t":16823,"p":0.972},{"t":16857,"p":0.95},{"t":16891,"p":0.938},{"t":16924,"p":0.92},{"t":16958,"p":0.903},{"t":16992,"p":0.938},{"t":17026,"p":0.972},{"t":17060,"p":0.96},{"t":17094,"p":0.955},{"t":17128,"p":0.97},{"t":17162,"p":0.972},{"t":17195,"p":0.975},{"t":17229,"p":0.98},{"t":17263,"p":0.99},{"t":17297,"p":1.0},{"t":17331,"p":1.0},{"t":17365,"p":1.0},
      {"t":17385,"p":0.92},{"t":17385,"p":0.85},{"t":17385,"p":0.78},{"t":17385,"p":0.73},{"t":17385,"p":0.64},{"t":17385,"p":0.59},{"t":17385,"p":0.49},{"t":17385,"p":0.38},{"t":17385,"p":0.30},{"t":17385,"p":0.25},{"t":17385,"p":0.18},{"t":17385,"p":0.11},{"t":17385,"p":0.04},
      {"t":17466,"p":0.66},{"t":17466,"p":0.63},{"t":17466,"p":0.59},{"t":17466,"p":0.56},{"t":17466,"p":0.52},{"t":17466,"p":0.49},{"t":17500,"p":0.45},{"t":17500,"p":0.40},
      {"t":17534,"p":0.56},{"t":17534,"p":0.47},{"t":17534,"p":0.38},{"t":17534,"p":0.32},{"t":17534,"p":0.25},{"t":17534,"p":0.18},{"t":17534,"p":0.11},{"t":17534,"p":0.04},
      {"t":17588,"p":0.47},{"t":17588,"p":0.35},{"t":17588,"p":0.21},{"t":17588,"p":0.11},{"t":17588,"p":0.02},
      {"t":19262,"p":0.83},{"t":19262,"p":0.78},{"t":19262,"p":0.73},{"t":19262,"p":0.66},{"t":19262,"p":0.59},{"t":19262,"p":0.52},{"t":19262,"p":0.45},{"t":19262,"p":0.38},{"t":19262,"p":0.31},{"t":19262,"p":0.25},{"t":19262,"p":0.18},{"t":19262,"p":0.11},{"t":19262,"p":0.04},
      {"t":19445,"p":0.04},{"t":19445,"p":0.11},{"t":19445,"p":0.18},{"t":19445,"p":0.25},{"t":19445,"p":0.31},{"t":19445,"p":0.38},{"t":19445,"p":0.45},{"t":19445,"p":0.52},{"t":19445,"p":0.59},{"t":19445,"p":0.66},{"t":19445,"p":0.73},{"t":19445,"p":0.80},{"t":19445,"p":0.87},
      {"t":19465,"p":0.938},{"t":19499,"p":0.99},{"t":19546,"p":1.0},{"t":19601,"p":0.972},{"t":19634,"p":0.903},{"t":19655,"p":0.85},{"t":19655,"p":0.78},{"t":19668,"p":0.99},{"t":19736,"p":1.0},{"t":19800,"p":1.0},{"t":19871,"p":1.0},{"t":19940,"p":1.0},{"t":20010,"p":0.995},{"t":20080,"p":1.0},{"t":20143,"p":0.995},{"t":20210,"p":1.0},{"t":20280,"p":0.995},{"t":20350,"p":1.0},{"t":20420,"p":0.995},{"t":20481,"p":0.99},{"t":20515,"p":0.985},{"t":20549,"p":0.97},{"t":20583,"p":0.955},{"t":20617,"p":0.945},{"t":20651,"p":0.955},{"t":20684,"p":0.972},{"t":20718,"p":0.975},{"t":20752,"p":0.98},{"t":20786,"p":0.985},{"t":20820,"p":0.99},{"t":20870,"p":0.99},{"t":20922,"p":0.99},{"t":20970,"p":0.995},{"t":21023,"p":1.0},
      {"t":21037,"p":0.99},{"t":21037,"p":0.90},{"t":21037,"p":0.817},{"t":21037,"p":0.73},{"t":21037,"p":0.644},{"t":21037,"p":0.60},{"t":21037,"p":0.52},{"t":21037,"p":0.45},{"t":21037,"p":0.36},{"t":21037,"p":0.28},{"t":21037,"p":0.21},{"t":21037,"p":0.124},
      {"t":21125,"p":0.765},{"t":21125,"p":0.73},{"t":21125,"p":0.70},{"t":21125,"p":0.65},{"t":21172,"p":0.60},
      {"t":21213,"p":0.66},{"t":21213,"p":0.59},{"t":21213,"p":0.52},{"t":21213,"p":0.45},{"t":21213,"p":0.38},{"t":21213,"p":0.31},{"t":21213,"p":0.25},{"t":21213,"p":0.18},{"t":21213,"p":0.11},{"t":21213,"p":0.04},
      {"t":21281,"p":0.04},{"t":21281,"p":0.02},{"t":21430,"p":0.02}
    ],
    "gt": [
      {"t":0,"t2":2290,"p":1},{"t":2371,"t2":2629,"p":1},{"t":4866,"t2":4880,"p":1},{"t":5022,"t2":6288,"p":1},{"t":8916,"t2":8930,"p":1},{"t":9113,"t2":9519,"p":1},{"t":9729,"t2":9743,"p":1},{"t":12162,"t2":12202,"p":1},{"t":12656,"t2":12670,"p":1},{"t":12961,"t2":13300,"p":1},{"t":15522,"t2":15536,"p":1},{"t":15989,"t2":16003,"p":1},{"t":16653,"t2":16992,"p":1},{"t":17094,"t2":17108,"p":1},{"t":17243,"t2":17257,"p":1},{"t":17378,"t2":17392,"p":1},{"t":17690,"t2":17704,"p":1},{"t":19905,"t2":20752,"p":1},{"t":21057,"t2":21071,"p":1},
      {"t":2165,"t2":2179,"p":0},{"t":2300,"t2":5076,"p":0},{"t":6207,"t2":9235,"p":0},{"t":9370,"t2":16755,"p":0},{"t":16823,"t2":20414,"p":0},{"t":20482,"t2":22446,"p":0}
    ]
  },
  "vconcat": [
    {
      "width": 1212,
      "height": 211,
      "data": {"name": "fz"},
      "mark": {"type": "line", "color": "#1f77b4", "strokeWidth": 1.6, "clip": true},
      "encoding": {
        "x": {"field": "t", "type": "quantitative", "scale": {"domain": [-1104, 23530], "nice": false, "zero": false}, "axis": null},
        "y": {
          "field": "f", "type": "quantitative",
          "scale": {"domain": [-123, 2357], "nice": false, "zero": false},
          "axis": {"values": [0, 500, 1000, 1500, 2000], "format": "d", "title": "Fz(N)", "titleFont": "Liberation Serif", "titleFontStyle": "italic", "titleFontWeight": "normal", "titleFontSize": 34, "titlePadding": 5}
        }
      }
    },
    {
      "width": 1212,
      "height": 211,
      "encoding": {
        "x": {"field": "t", "type": "quantitative", "scale": {"domain": [-1104, 23530], "nice": false, "zero": false}, "axis": null},
        "y": {
          "field": "p", "type": "quantitative",
          "scale": {"domain": [-0.05, 1.048], "nice": false, "zero": false},
          "axis": {"values": [0, 0.2, 0.4, 0.6, 0.8, 1.0], "format": ".1f", "title": "Pₜₒₜ(stable)", "titleFont": "Liberation Serif", "titleFontStyle": "italic", "titleFontWeight": "normal", "titleFontSize": 34, "titlePadding": 15}
        }
      },
      "layer": [
        {"data": {"name": "green"}, "mark": {"type": "circle", "color": "#008000", "size": 20, "opacity": 1}},
        {"data": {"name": "gt"}, "mark": {"type": "rule", "color": "#ff0000", "strokeWidth": 4.5, "strokeCap": "round"}, "encoding": {"x2": {"field": "t2"}}}
      ]
    },
    {
      "width": 1212,
      "height": 211,
      "encoding": {
        "x": {
          "field": "t", "type": "quantitative",
          "scale": {"domain": [-1104, 23530], "nice": false, "zero": false},
          "axis": {"values": [0, 5000, 10000, 15000, 20000], "format": "d", "labelFontStyle": "italic", "labelFontSize": 15, "labelPadding": 10, "title": "Time (ms)", "titleFont": "Liberation Sans", "titleFontSize": 20, "titleFontWeight": "normal", "titlePadding": 8}
        },
        "y": {
          "field": "p", "type": "quantitative",
          "scale": {"domain": [-0.052, 1.046], "nice": false, "zero": false},
          "axis": {"values": [0, 0.2, 0.4, 0.6, 0.8, 1.0], "format": ".1f", "title": "Pₜₒₜ(stable)", "titleFont": "Liberation Serif", "titleFontStyle": "italic", "titleFontWeight": "normal", "titleFontSize": 34, "titlePadding": 15}
        }
      },
      "layer": [
        {
          "data": {"name": "blue"},
          "mark": {"type": "circle", "size": 24, "opacity": 1},
          "encoding": {
            "color": {
              "datum": "FCM predictions", "type": "nominal",
              "scale": {"domain": ["FCM predictions", "ground truth"], "range": ["#0000ff", "#ff0000"]},
              "legend": {
                "title": null, "orient": "bottom-left", "offset": 7, "padding": 14,
                "fillColor": "white", "strokeColor": "#cccccc", "cornerRadius": 3,
                "symbolType": "circle", "symbolSize": 130, "symbolStrokeColor": "#333333", "symbolStrokeWidth": 1,
                "labelFont": "Liberation Sans", "labelFontSize": 18, "labelColor": "black", "labelOffset": 10, "rowPadding": 7,
                "encode": {"symbols": {"update": {"stroke": {"value": "#333333"}, "strokeWidth": {"value": 1}}}}
              }
            }
          }
        },
        {"data": {"name": "gt"}, "mark": {"type": "rule", "color": "#ff0000", "strokeWidth": 4.5, "strokeCap": "round"}, "encoding": {"x2": {"field": "t2"}}}
      ]
    }
  ]
}
